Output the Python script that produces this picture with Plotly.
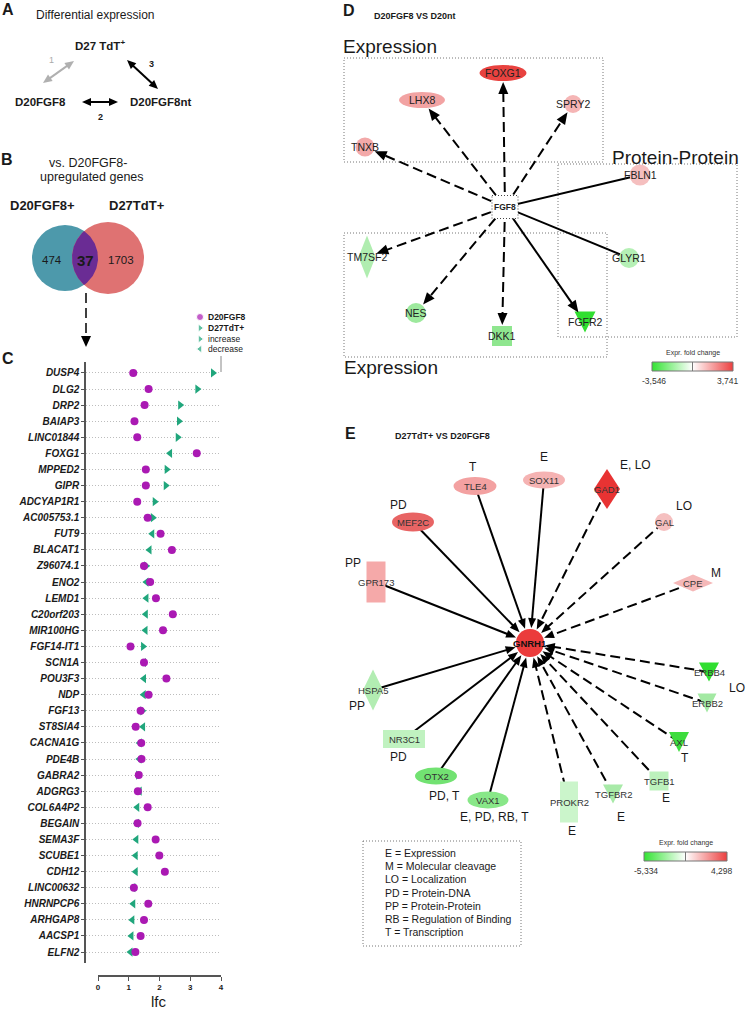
import numpy as np
import plotly.graph_objects as go

W, H = 747, 1013
FONT = "Liberation Sans, Arial, Helvetica, sans-serif"
INK = "#1a1a1a"

# ---------------- Panel C: log fold change of the 37 shared genes ----------------
genes = ["DUSP4", "DLG2", "DRP2", "BAIAP3", "LINC01844", "FOXG1", "MPPED2", "GIPR",
         "ADCYAP1R1", "AC005753.1", "FUT9", "BLACAT1", "Z96074.1", "ENO2", "LEMD1",
         "C20orf203", "MIR100HG", "FGF14-IT1", "SCN1A", "POU3F3", "NDP", "FGF13",
         "ST8SIA4", "CACNA1G", "PDE4B", "GABRA2", "ADGRG3", "COL6A4P2", "BEGAIN",
         "SEMA3F", "SCUBE1", "CDH12", "LINC00632", "HNRNPCP6", "ARHGAP8", "AACSP1", "ELFN2"]
lfc_d20fgf8 = [1.14, 1.64, 1.51, 1.18, 1.27, 3.21, 1.55, 1.55, 1.27, 1.61, 2.03, 2.40,
               1.49, 1.69, 1.88, 2.43, 2.11, 1.05, 1.49, 2.22, 1.64, 1.38, 1.22, 1.40,
               1.41, 1.32, 1.29, 1.61, 1.28, 1.87, 1.99, 2.17, 1.16, 1.63, 1.49, 1.38, 1.21]
lfc_d27tdt = [3.74, 3.23, 2.67, 2.63, 2.59, 2.34, 2.23, 2.20, 1.84, 1.78, 1.76, 1.67,
              1.56, 1.57, 1.57, 1.55, 1.54, 1.46, 1.49, 1.49, 1.48, 1.44, 1.46, 1.35,
              1.34, 1.30, 1.35, 1.27, 1.26, 1.24, 1.22, 1.22, 1.14, 1.14, 1.11, 1.08, 1.05]
d27_change = ["increase", "increase", "increase", "increase", "increase", "decrease",
              "increase", "increase", "increase", "increase", "decrease", "decrease",
              "increase", "decrease", "decrease", "decrease", "decrease", "increase",
              "decrease", "decrease", "decrease", "increase", "decrease", "decrease",
              "decrease", "increase", "decrease", "decrease", "decrease", "decrease",
              "decrease", "decrease", "decrease", "decrease", "decrease", "decrease", "decrease"]
lfc_ticks = [0, 1, 2, 3, 4]

# ---------------- Panel B: Venn counts ----------------
venn_sets = ["D20FGF8+", "D27TdT+"]
venn_counts = [474, 37, 1703]

# ---------------- Panel D: FGF8 network ----------------
d_nodes = ["FGF8", "FOXG1", "LHX8", "SPRY2", "TNXB", "FBLN1", "GLYR1", "TM7SF2", "NES", "DKK1", "FGFR2"]
d_x = [505, 503, 422, 573, 365, 640, 629, 367, 416, 502, 585]
d_y = [207, 73, 100, 104, 147, 175, 258, 257, 313, 336, 322]
d_edge_target = ["FOXG1", "LHX8", "SPRY2", "TNXB", "FBLN1", "GLYR1", "FGFR2", "DKK1", "NES", "TM7SF2"]
d_edge_dashed = [True, True, True, True, False, False, False, True, True, True]
d_edge_arrow = [True, True, True, True, False, False, True, True, True, True]
d_fold_range = [-3.546, 3.741]

# ---------------- Panel E: GNRH1 network ----------------
e_nodes = ["GNRH1", "TLE4", "SOX11", "GAD1", "GAL", "CPE", "MEF2C", "GPR173", "HSPA5",
           "ERBB4", "ERBB2", "AXL", "TGFB1", "TGFBR2", "PROKR2", "VAX1", "OTX2", "NR3C1"]
e_x = [530, 475, 544, 607, 664, 693, 413, 376, 373, 709, 707, 679, 659, 613, 569, 488, 436, 404]
e_y = [643, 486, 480, 489, 522, 583, 522, 582, 690, 672, 703, 742, 781, 794, 802, 800, 776, 739]
e_edge_dashed = [None, False, False, True, True, True, False, False, False,
                 True, True, True, True, True, True, False, False, False]
e_rel_text = ["T", "E", "E, LO", "LO", "M", "PD", "PP", "PP", "LO", "T", "E", "E", "E",
              "E, PD, RB, T", "PD, T", "PD"]
e_rel_x = [473, 544, 635, 684, 716, 398, 353, 357, 737, 685, 666, 621, 572, 494, 444, 398]
e_rel_y = [467, 457, 465, 506, 573, 505, 563, 706, 688, 758, 798, 817, 831, 817, 796, 757]
e_legend = ["E = Expression", "M = Molecular cleavage", "LO = Localization", "PD = Protein-DNA",
            "PP = Protein-Protein", "RB = Regulation of Binding", "T = Transcription"]
e_fold_range = [-5.334, 4.298]

# ---------------- styles ----------------
DOT = "#aa19b3"
TRI = "#20a67c"
DOTTED = "1px,2px"
d_style = {  # shape, half width, half height, fill
    "FGF8": ("box", 13, 11.5, "#ffffff"),
    "FOXG1": ("ellipse", 23.5, 8, "#e8423f"),
    "LHX8": ("ellipse", 23, 8, "#f2a3a3"),
    "SPRY2": ("ellipse", 9, 9, "#f5b5b5"),
    "TNXB": ("ellipse", 9.5, 9.5, "#f3a9a9"),
    "FBLN1": ("ellipse", 10.5, 10.5, "#f5bfbf"),
    "GLYR1": ("ellipse", 10, 10, "#b5f0b5"),
    "TM7SF2": ("diamond", 8.5, 21.5, "#b0edb0"),
    "NES": ("ellipse", 10, 10, "#9de99d"),
    "DKK1": ("rect", 10, 10, "#8fe68f"),
    "FGFR2": ("triangle", 10.5, 10.5, "#30df30"),
}
e_style = {
    "GNRH1": ("ellipse", 14, 14, "#eb3b3b"),
    "TLE4": ("ellipse", 21.5, 9, "#f3a1a1"),
    "SOX11": ("ellipse", 21, 8.5, "#f5b3b3"),
    "GAD1": ("diamond", 13, 20, "#e83333"),
    "GAL": ("ellipse", 9, 9, "#f5c0c0"),
    "CPE": ("diamond", 20, 8.5, "#f5b8b8"),
    "MEF2C": ("ellipse", 21, 9.5, "#e86464"),
    "GPR173": ("rect", 9.5, 20.5, "#f5a9a9"),
    "HSPA5": ("diamond", 10, 20.5, "#b2edb2"),
    "ERBB4": ("triangle", 10, 9.5, "#30de30"),
    "ERBB2": ("triangle", 9.5, 9.5, "#a3e9a3"),
    "AXL": ("triangle", 10, 10, "#3ddc3d"),
    "TGFB1": ("rect", 9.5, 9.5, "#bcf1bc"),
    "TGFBR2": ("triangle", 10, 9.5, "#a8eaa8"),
    "PROKR2": ("rect", 9, 20.5, "#cbf5cb"),
    "VAX1": ("ellipse", 20.5, 8.5, "#88e788"),
    "OTX2": ("ellipse", 21, 8.5, "#72e272"),
    "NR3C1": ("rect", 21, 9, "#c0f2c0"),
}
FOLD_SCALE = [[0, "#33e333"], [0.5, "#ffffff"], [1, "#ec3f3f"]]

fig = go.Figure()
shapes = []
annotations = []


def text(x, y, s, size, bold=False, color=INK, xanchor="center"):
    annotations.append(dict(
        x=x, y=y, xref="x3", yref="y3", text=s, showarrow=False,
        xanchor=xanchor, yanchor="middle",
        font=dict(family=FONT, size=size, color=color, weight="bold" if bold else "normal"),
    ))


def head(tx, ty, ux, uy, length, width, color):
    bx, by = tx - ux * length, ty - uy * length
    px, py = -uy * width / 2, ux * width / 2
    shapes.append(dict(
        type="path", xref="x3", yref="y3", fillcolor=color, line=dict(width=0), layer="above",
        path=f"M{tx},{ty} L{bx + px},{by + py} L{bx - px},{by - py} Z",
    ))


def edge(x0, y0, x1, y1, dashed, hl=0, hw=0, both=False, color="black", width=2):
    L = np.hypot(x1 - x0, y1 - y0)
    ux, uy = (x1 - x0) / L, (y1 - y0) / L
    ex, ey = x1 - ux * hl * 0.8, y1 - uy * hl * 0.8
    sx_, sy_ = (x0 + ux * hl * 0.8, y0 + uy * hl * 0.8) if both else (x0, y0)
    fig.add_trace(go.Scatter(
        x=[sx_, ex], y=[sy_, ey], xaxis="x3", yaxis="y3", mode="lines",
        line=dict(color=color, width=width, dash="10px,5px" if dashed else "solid"),
        hoverinfo="skip",
    ))
    if hl:
        head(x1, y1, ux, uy, hl, hw, color)
        if both:
            head(x0, y0, -ux, -uy, hl, hw, color)


def node_shape(kind, cx, cy, hw, hh, fill):
    base = dict(xref="x3", yref="y3", fillcolor=fill, line=dict(width=0), layer="above")
    if kind == "ellipse":
        base.update(type="circle", x0=cx - hw, x1=cx + hw, y0=cy - hh, y1=cy + hh)
    elif kind == "rect":
        base.update(type="rect", x0=cx - hw, x1=cx + hw, y0=cy - hh, y1=cy + hh)
    elif kind == "box":
        base.update(type="rect", x0=cx - hw, x1=cx + hw, y0=cy - hh, y1=cy + hh,
                    line=dict(color="#444", width=1, dash=DOTTED))
    elif kind == "diamond":
        base.update(type="path",
                    path=f"M{cx},{cy - hh} L{cx + hw},{cy} L{cx},{cy + hh} L{cx - hw},{cy} Z")
    else:  # downward triangle
        base.update(type="path",
                    path=f"M{cx - hw},{cy - hh} L{cx + hw},{cy - hh} L{cx},{cy + hh} Z")
    shapes.append(base)


def reach(hw, hh, ux, uy):
    return hw * hh / np.hypot(hh * ux, hw * uy)


def fold_bar(x0, x1, y0, y1, lo, hi, title):
    fig.add_trace(go.Scatter(
        x=[x0, x1, x1, x0, x0], y=[y0, y0, y1, y1, y0], xaxis="x3", yaxis="y3",
        mode="lines", fill="toself", line=dict(color="#777", width=1),
        fillgradient=dict(type="horizontal", colorscale=FOLD_SCALE), hoverinfo="skip",
    ))
    mid = (x0 + x1) / 2
    shapes.append(dict(type="line", xref="x3", yref="y3", x0=mid, x1=mid, y0=y0, y1=y1,
                       line=dict(color="#777", width=1)))
    text(mid, y0 - 9, title, 7, color="#333")
    text(x0 + 2, y1 + 10, f"{lo:,.3f}".replace(".", ","), 8.5, color="#333")
    text(x1 - 5, y1 + 10, f"{hi:,.3f}".replace(".", ","), 8.5, color="#333")


# ---------------- Panel C traces ----------------
rows = list(range(len(genes)))
fig.add_trace(go.Scatter(
    x=lfc_d27tdt, y=rows, mode="markers", xaxis="x", yaxis="y",
    marker=dict(color=TRI, size=8,
                symbol=["triangle-right" if c == "increase" else "triangle-left" for c in d27_change]),
    hoverinfo="skip",
))
fig.add_trace(go.Scatter(
    x=lfc_d20fgf8, y=rows, mode="markers", xaxis="x", yaxis="y",
    marker=dict(color=DOT, size=8, symbol="circle"), hoverinfo="skip",
))
fig.add_trace(go.Scatter(x=[None], y=[None], xaxis="x2", yaxis="y4"))

# legend of C
fig.add_trace(go.Scatter(
    x=[200, 200, 200, 200], y=[317, 328, 339, 349], xaxis="x3", yaxis="y3", mode="markers",
    marker=dict(color=[DOT, TRI, TRI, TRI], size=[7, 7, 7, 7],
                symbol=["circle", "triangle-right", "triangle-right", "triangle-left"]),
    hoverinfo="skip",
))
for lab, yy, b in zip(["D20FGF8", "D27TdT+", "increase", "decrease"], [317, 328, 339, 349],
                      [True, True, False, False]):
    text(206, yy, lab, 8.5, bold=b, xanchor="left")
shapes.append(dict(type="line", xref="x3", yref="y3", x0=221, x1=221, y0=356, y1=372,
                   line=dict(color="#888", width=1)))
text(159, 1001, "lfc", 15)

# ---------------- Panel A ----------------
text(8, 9, "A", 16, bold=True)
text(34, 15, "Differential expression", 12, xanchor="left")
text(100, 45, "D27 TdT<sup>+</sup>", 11.5, bold=True)
text(40, 102, "D20FGF8", 11.5, bold=True)
text(161, 102, "D20FGF8nt", 11.5, bold=True)
edge(43, 83, 74, 61, False, 9, 8, both=True, color="#b0b0b0")
text(51, 60, "1", 9, color="#aaaaaa")
edge(127, 60, 158, 89, False, 9, 8, both=True)
text(151, 64, "3", 9, bold=True)
edge(82, 102, 118, 102, False, 9, 8, both=True)
text(100, 117, "2", 9, bold=True)

# ---------------- Panel B: Venn ----------------
text(7, 159, "B", 16, bold=True)
text(88, 163, "vs. D20FGF8-", 12.5)
text(92, 177, "upregulated genes", 12.5)
text(42, 205, venn_sets[0], 13, bold=True)
text(137, 205, venn_sets[1], 13, bold=True)
cxA, cxB, cyV, rA, rB = 65, 108, 258, 33, 36
shapes.append(dict(type="circle", xref="x3", yref="y3", x0=cxA - rA, x1=cxA + rA,
                   y0=cyV - rA, y1=cyV + rA, fillcolor="#4d99ab", line=dict(width=0), layer="below"))
shapes.append(dict(type="circle", xref="x3", yref="y3", x0=cxB - rB, x1=cxB + rB,
                   y0=cyV - rB, y1=cyV + rB, fillcolor="#df7272", line=dict(width=0), layer="below"))
dd = cxB - cxA
aa = (rA ** 2 - rB ** 2 + dd ** 2) / (2 * dd)
hh = np.sqrt(rA ** 2 - aa ** 2)
tA = np.linspace(-np.arctan2(hh, aa), np.arctan2(hh, aa), 60)
tB = np.linspace(np.pi - np.arctan2(hh, dd - aa), np.pi + np.arctan2(hh, dd - aa), 60)
fig.add_trace(go.Scatter(
    x=np.concatenate([cxA + rA * np.cos(tA), cxB + rB * np.cos(tB)]),
    y=np.concatenate([cyV + rA * np.sin(tA), cyV + rB * np.sin(tB)]),
    xaxis="x3", yaxis="y3", mode="lines", fill="toself", fillcolor="#6a2c94",
    line=dict(width=0, color="#6a2c94"), hoverinfo="skip",
))
text(52, 260, str(venn_counts[0]), 11.5)
text(85, 260, f"<b>{venn_counts[1]}</b>", 15)
text(121, 260, str(venn_counts[2]), 11.5)
edge(86, 293, 86, 347, True, 11, 10, width=1.5)
text(8, 358, "C", 16, bold=True)

# ---------------- Panel D ----------------
text(349, 10, "D", 16, bold=True)
text(372, 16, "D20FGF8 VS D20nt", 9, bold=True, xanchor="left")
text(341, 46, "Expression", 19, xanchor="left")
text(610, 157, "Protein-Protein", 19, xanchor="left")
text(342, 367, "Expression", 19, xanchor="left")
for bx0, bx1, by0, by1 in [(344, 603, 58, 162), (558, 737, 164, 337), (344, 607, 233, 357)]:
    shapes.append(dict(type="rect", xref="x3", yref="y3", x0=bx0, x1=bx1, y0=by0, y1=by1,
                       line=dict(color="#777", width=1, dash=DOTTED), layer="below"))
for n, x, y in zip(d_nodes, d_x, d_y):
    kind, hw, hh_, fill = d_style[n]
    node_shape(kind, x, y, hw, hh_, fill)
dpos = {n: (x, y) for n, x, y in zip(d_nodes, d_x, d_y)}
sx, sy = dpos["FGF8"]
for tgt, dashed, arr in zip(d_edge_target, d_edge_dashed, d_edge_arrow):
    tx, ty = dpos[tgt]
    L = np.hypot(tx - sx, ty - sy)
    ux, uy = (tx - sx) / L, (ty - sy) / L
    _, hw, hh_, _ = d_style[tgt]
    if arr:
        gap = reach(hw, hh_, ux, uy) + 1
        edge(sx, sy, tx - ux * gap, ty - uy * gap, dashed, 12, 10)
    else:
        edge(sx, sy, tx, ty, dashed)
for n, x, y in zip(d_nodes, d_x, d_y):
    text(x, y, n, 8.5 if n == "FGF8" else 10.5, bold=(n == "FGF8"), color="#222")
fold_bar(652, 733, 362, 371, d_fold_range[0], d_fold_range[1], "Expr. fold change")

# ---------------- Panel E ----------------
text(350, 433, "E", 16, bold=True)
text(393, 436, "D27TdT+ VS D20FGF8", 9, bold=True, xanchor="left")
for n, x, y in zip(e_nodes, e_x, e_y):
    kind, hw, hh_, fill = e_style[n]
    node_shape(kind, x, y, hw, hh_, fill)
gx, gy = e_x[0], e_y[0]
for n, x, y, dashed in zip(e_nodes[1:], e_x[1:], e_y[1:], e_edge_dashed[1:]):
    L = np.hypot(x - gx, y - gy)
    ux, uy = (x - gx) / L, (y - gy) / L
    edge(x, y, gx + ux * 15, gy + uy * 15, dashed, 10, 8)
for n, x, y in zip(e_nodes, e_x, e_y):
    text(x, y, n, 9.5, bold=(n == "GNRH1"), color="#333" if n != "GNRH1" else "#111")
for s, x, y in zip(e_rel_text, e_rel_x, e_rel_y):
    text(x, y, s, 12)
shapes.append(dict(type="rect", xref="x3", yref="y3", x0=363, x1=521, y0=841, y1=946,
                   line=dict(color="#777", width=1, dash=DOTTED), layer="below"))
for i, s in enumerate(e_legend):
    text(383, 853 + 13.2 * i, s, 10.5, xanchor="left")
fold_bar(644, 727, 852, 861, e_fold_range[0], e_fold_range[1], "Expr. fold change")

# ---------------- layout ----------------
c_top, c_bot = 362, 963
fig.update_layout(
    template="none",
    width=W, height=H,
    margin=dict(l=0, r=0, t=0, b=0),
    paper_bgcolor="white", plot_bgcolor="rgba(0,0,0,0)",
    showlegend=False,
    font=dict(family=FONT, color=INK),
    xaxis=dict(domain=[86 / W, 221 / W], range=[-0.4, 4.0], visible=False, anchor="y"),
    yaxis=dict(domain=[1 - c_bot / H, 1 - c_top / H], range=[len(genes) - 0.32, -0.68],
               anchor="x", tickmode="array", tickvals=rows, ticktext=genes,
               tickfont=dict(family=FONT, size=10, color=INK, weight="bold", style="italic"),
               showgrid=True, gridcolor="#bdbdbd", griddash=DOTTED, gridwidth=1,
               zeroline=False, showline=True, linecolor="#555", linewidth=1.5,
               ticks="outside", ticklen=3, tickcolor="#555", automargin=False),
    xaxis2=dict(domain=[98 / W, 221 / W], range=[0, 4], anchor="free", position=1 - 976 / H,
                tickmode="array", tickvals=lfc_ticks, ticks="outside", ticklen=4,
                tickcolor="#555", showline=True, linecolor="#555", linewidth=1.5,
                tickfont=dict(family=FONT, size=8, color=INK, weight="bold"),
                showgrid=False, zeroline=False, automargin=False),
    yaxis4=dict(domain=[1 - c_bot / H, 1 - c_top / H], range=[0, 1], visible=False, anchor="x2"),
    xaxis3=dict(domain=[0, 1], range=[0, W], visible=False, anchor="y3"),
    yaxis3=dict(domain=[0, 1], range=[H, 0], visible=False, anchor="x3"),
    shapes=shapes,
    annotations=annotations,
)

fig.write_html("out.html", config={"displayModeBar": False},
               post_script="document.body.style.margin='0';")
